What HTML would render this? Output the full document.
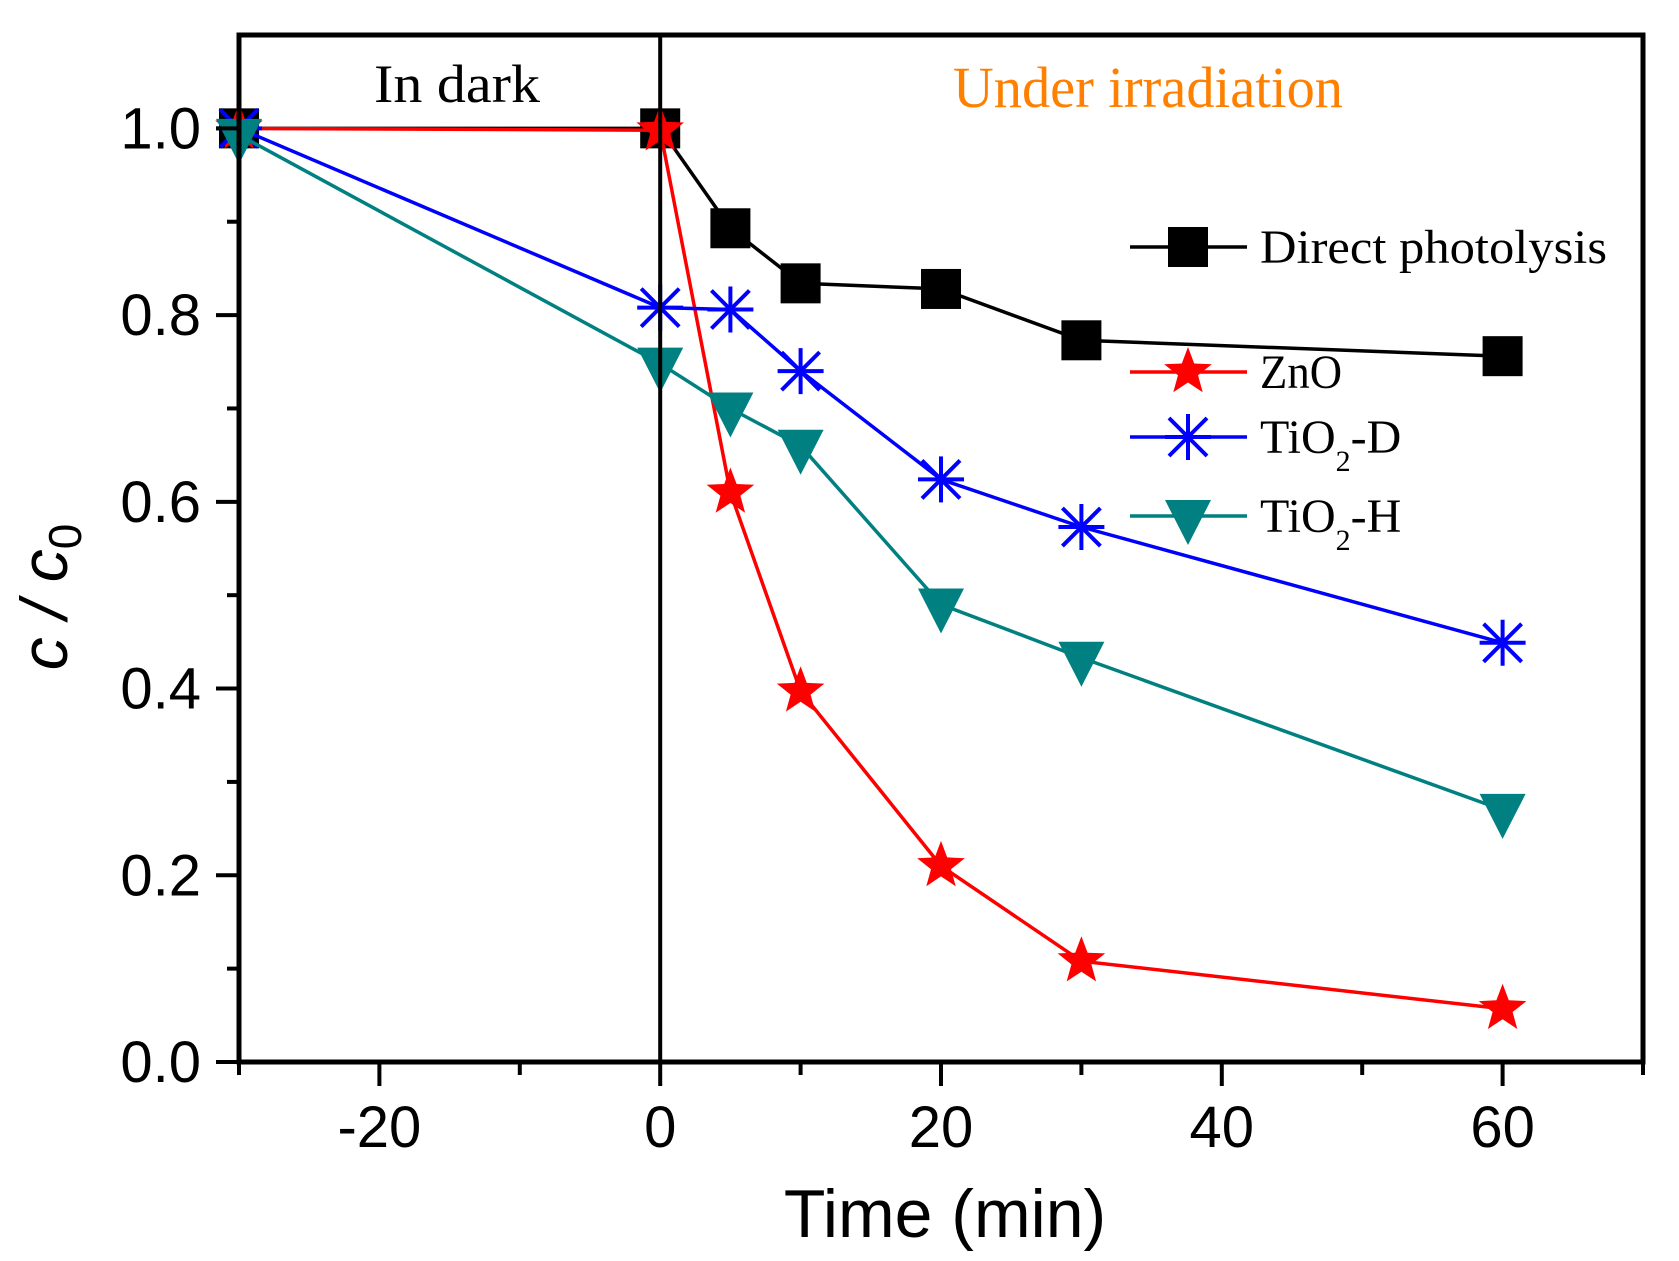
<!DOCTYPE html>
<html><head><meta charset="utf-8"><style>
html,body{margin:0;padding:0;background:#fff;}
svg{display:block;}
</style></head><body>
<svg id="chart" width="1679" height="1261" viewBox="0 0 1679 1261" xmlns="http://www.w3.org/2000/svg">
<g id="marks"></g>
<g id="axes"></g>
</svg>
<script>
const times = [-30, 0, 5, 10, 20, 30, 60];
const seriesNames = ["Direct photolysis", "ZnO", "TiO2-D", "TiO2-H"];
const directVals = [1.0, 1.0, 0.893, 0.834, 0.828, 0.773, 0.756];
const znoVals = [1.0, 0.998, 0.61, 0.397, 0.21, 0.108, 0.057];
const tioDVals = [1.0, 0.808, 0.806, 0.74, 0.624, 0.573, 0.449];
const tioHVals = [0.993, 0.748, 0.70, 0.66, 0.49, 0.433, 0.27];
const xTicks = [-20, 0, 20, 40, 60];
const xMinor = [-30, -10, 10, 30, 50, 70];
const yTicks = ["0.0", "0.2", "0.4", "0.6", "0.8", "1.0"];
const yMinor = [0.1, 0.3, 0.5, 0.7, 0.9];

const X0 = 239, X1 = 1643, Y0 = 1062, YT = 35;
function xs(v){ return X0 + (v + 30) / 100 * (X1 - X0); }
function ys(v){ return Y0 - v / 1.1 * (Y0 - YT); }
const NS = "http://www.w3.org/2000/svg";
const marks = document.getElementById('marks');
const axes = document.getElementById('axes');
function mk(tag, attrs, parent){
  const e = document.createElementNS(NS, tag);
  for (const k in attrs) e.setAttribute(k, attrs[k]);
  parent.appendChild(e); return e;
}
function starPts(cx, cy, R){
  const r = R * 0.42; let p = [];
  for (let i = 0; i < 10; i++){
    const a = -Math.PI/2 + i * Math.PI/5; const rr = i % 2 ? r : R;
    p.push((cx + rr*Math.cos(a)).toFixed(1) + "," + (cy + rr*Math.sin(a)).toFixed(1));
  }
  return p.join(" ");
}
function drawMarker(type, cx, cy, color, parent){
  let m;
  if (type === 'square') m = mk('rect', {x: cx-20, y: cy-20, width: 40, height: 40, fill: color}, parent);
  else if (type === 'star') m = mk('polygon', {points: starPts(cx, cy, 25), fill: color}, parent);
  else if (type === 'tri') m = mk('polygon', {points: `${cx-23},${cy-16} ${cx+23},${cy-16} ${cx},${cy+29}`, fill: color}, parent);
  else {
    m = mk('g', {stroke: color, 'stroke-width': 4}, parent);
    mk('line', {x1: cx-23, y1: cy, x2: cx+23, y2: cy}, m);
    mk('line', {x1: cx, y1: cy-23, x2: cx, y2: cy+23}, m);
    mk('line', {x1: cx-19, y1: cy-19, x2: cx+19, y2: cy+19}, m);
    mk('line', {x1: cx-19, y1: cy+19, x2: cx+19, y2: cy-19}, m);
  }
  return m;
}
const series = [
  {vals: directVals, color: '#000000', type: 'square', key: 'direct', name: seriesNames[0]},
  {vals: znoVals, color: '#FF0000', type: 'star', key: 'zno', name: seriesNames[1]},
  {vals: tioDVals, color: '#0000FF', type: 'ast', key: 'tio2-d', name: seriesNames[2]},
  {vals: tioHVals, color: '#008080', type: 'tri', key: 'tio2-h', name: seriesNames[3]}
];
series.forEach(s => {
  const g = mk('g', {}, marks);
  
  
  const pts = times.map((t, i) => xs(t).toFixed(1) + ',' + ys(s.vals[i]).toFixed(1)).join(' ');
  const pl = mk('polyline', {points: pts, fill: 'none', stroke: s.color, 'stroke-width': 3.5}, g);
  
  
  times.forEach((t, i) => {
    const m = drawMarker(s.type, xs(t), ys(s.vals[i]), s.color, g);
    
    
  });
});
const dv = mk('line', {x1: xs(0), y1: YT, x2: xs(0), y2: Y0, stroke: '#000', 'stroke-width': 4}, axes);


const fr = mk('rect', {x: X0, y: YT, width: X1-X0, height: Y0-YT, fill: 'none', stroke: '#000', 'stroke-width': 5}, axes);


xTicks.forEach(v => {
  mk('line', {x1: xs(v), y1: Y0, x2: xs(v), y2: Y0+24, stroke: '#000', 'stroke-width': 4}, axes);
  const t = mk('text', {x: xs(v), y: Y0+85, 'text-anchor': 'middle', 'font-family': 'Liberation Sans Narrow, Liberation Sans, sans-serif', 'font-size': 58}, axes);
  t.textContent = v;
  
  
});
xMinor.forEach(v => mk('line', {x1: xs(v), y1: Y0, x2: xs(v), y2: Y0+13, stroke: '#000', 'stroke-width': 4}, axes));
yTicks.forEach(lbl => {
  const v = parseFloat(lbl);
  mk('line', {x1: X0-23, y1: ys(v), x2: X0, y2: ys(v), stroke: '#000', 'stroke-width': 4}, axes);
  const t = mk('text', {x: 201, y: ys(v)+20, 'text-anchor': 'end', 'font-family': 'Liberation Sans Narrow, Liberation Sans, sans-serif', 'font-size': 58}, axes);
  t.textContent = lbl;
  
  
});
yMinor.forEach(v => mk('line', {x1: X0-12, y1: ys(v), x2: X0, y2: ys(v), stroke: '#000', 'stroke-width': 4}, axes));
const legY = [247, 372, 437, 516];
const legW = [347, 82, 135, 135];
const lg = mk('g', {}, axes);


series.forEach((s, i) => {
  const y = legY[i];
  const e = mk('g', {}, lg);
  
  
  mk('line', {x1: 1130, y1: y, x2: 1247, y2: y, stroke: s.color, 'stroke-width': 3.5}, e);
  drawMarker(s.type, 1188, y, s.color, e);
  const t = mk('text', {x: 1260, y: y+16, 'font-family': 'Liberation Serif, serif', 'font-size': 48, textLength: legW[i], lengthAdjust: 'spacingAndGlyphs'}, e);
  const name = s.name;
  if (name.indexOf('TiO2') === 0) {
    t.removeAttribute('textLength');
    t.innerHTML = 'TiO<tspan font-size="30" dy="18">2</tspan><tspan dy="-18">' + name.slice(4) + '</tspan>';
  } else t.textContent = name;
});
</script>
<svg style="position:absolute;left:0;top:0" width="1679" height="1261" xmlns="http://www.w3.org/2000/svg">
<text x="374" y="102" font-family="Liberation Serif, serif" font-size="54" textLength="166" lengthAdjust="spacingAndGlyphs">In dark</text>
<text x="953" y="107" font-family="Liberation Serif, serif" font-size="58" fill="#FF8000" textLength="390" lengthAdjust="spacingAndGlyphs">Under irradiation</text>
<text x="945" y="1237" text-anchor="middle" font-family="Liberation Sans, sans-serif" font-size="68">Time (min)</text>
<text transform="translate(67,597) rotate(-90)" text-anchor="middle" font-family="Liberation Sans, sans-serif" font-size="66" font-style="italic">c / c<tspan font-size="46" dy="14" font-style="normal">0</tspan></text>
</svg>
</body></html>
